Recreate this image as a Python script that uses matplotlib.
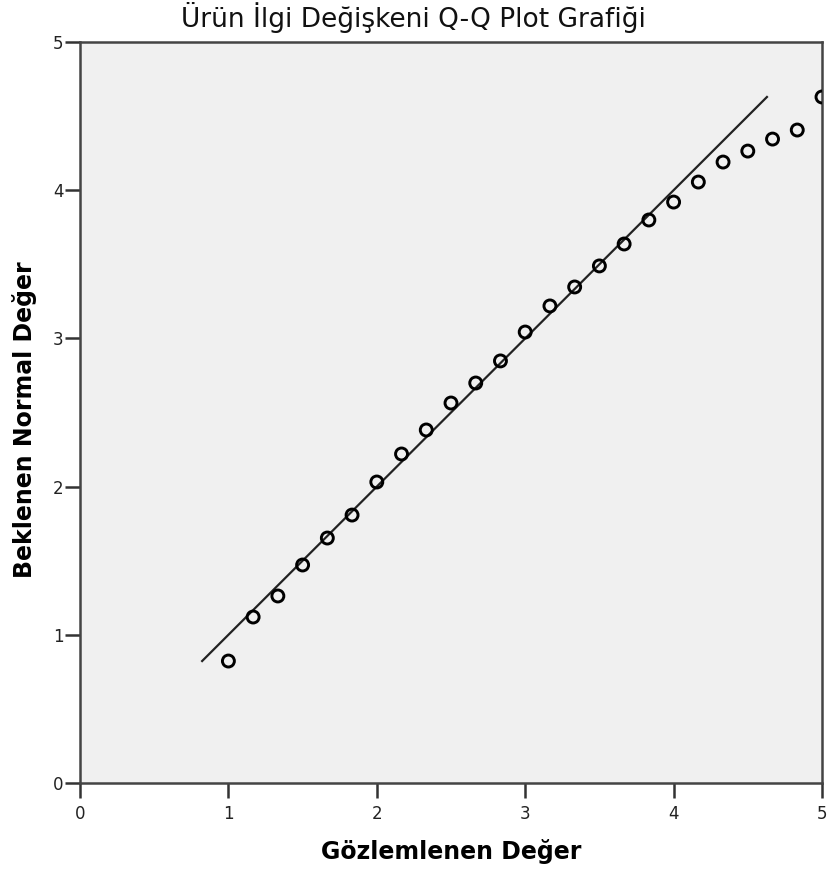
import matplotlib
matplotlib.use("Agg")
import matplotlib.pyplot as plt
import numpy as np

plt.rcParams['font.family'] = ['DejaVu Sans']

observed = [1.0, 1.1667, 1.3333, 1.5, 1.6667, 1.8333, 2.0, 2.1667, 2.3333, 2.5,
            2.6667, 2.8333, 3.0, 3.1667, 3.3333, 3.5, 3.6667, 3.8333, 4.0, 4.1667,
            4.3333, 4.5, 4.6667, 4.8333, 5.0]
expected = [0.823, 1.12, 1.262, 1.471, 1.653, 1.808, 2.031, 2.22, 2.382, 2.564,
            2.699, 2.848, 3.043, 3.219, 3.347, 3.489, 3.637, 3.799, 3.920, 4.055,
            4.190, 4.264, 4.345, 4.406, 4.629]
line_x = [0.823, 4.629]
line_y = [0.823, 4.629]
ticks = [0, 1, 2, 3, 4, 5]

W, H = 827, 873
fig = plt.figure(figsize=(W/100, H/100), dpi=100)
ax = fig.add_axes([80/W, 90/H, 742/W, 741/H])
ax.set_facecolor('#f0f0f0')

ax.plot(line_x, line_y, color='#222222', lw=1.6, zorder=2)
ax.scatter(observed, expected, s=74, facecolors='none', edgecolors='black',
           linewidths=2.1, zorder=3)

ax.set_xlim(0, 5)
ax.set_ylim(0, 5)
ax.set_xticks(ticks)
ax.set_yticks(ticks)
ax.tick_params(axis='x', direction='out', length=11, width=1.8, color='#333333',
               labelsize=12, pad=5, labelcolor='#222222')
ax.tick_params(axis='y', direction='out', length=11, width=1.8, color='#333333',
               labelsize=12, pad=1, labelcolor='#222222')
for s in ax.spines.values():
    s.set_color('#444444')
    s.set_linewidth(1.8)

fig.text(0.5, 1 - 27/H, 'Ürün İlgi Değişkeni Q-Q Plot Grafiği', fontsize=19,
         ha='center', va='baseline', color='#111111')

ax.set_xlabel('Gözlemlenen Değer', fontsize=17, fontweight='bold')
ax.set_ylabel('Beklenen Normal Değer', fontsize=17, fontweight='bold')
ax.xaxis.set_label_coords(0.5, -(851 - 783)/741)
ax.xaxis.label.set_va('center')
ax.yaxis.set_label_coords((25 - 80)/742, (783 - 420)/741)
ax.yaxis.label.set_va('center')

fig.savefig('out.png', dpi=100)
